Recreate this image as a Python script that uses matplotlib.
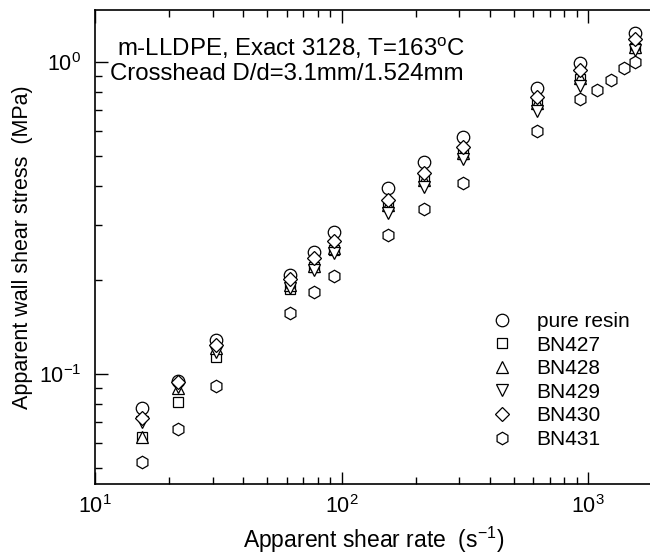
import matplotlib
matplotlib.use('Agg')
from matplotlib import pyplot as plt
from matplotlib.ticker import LogLocator, NullFormatter
import numpy as np

plt.rcParams['font.family'] = ['Liberation Sans', 'DejaVu Sans']
plt.rcParams['mathtext.fontset'] = 'custom'
plt.rcParams['mathtext.rm'] = 'Liberation Sans'
plt.rcParams['mathtext.it'] = 'Liberation Sans:italic'
plt.rcParams['mathtext.bf'] = 'Liberation Sans:bold'
plt.rcParams['axes.unicode_minus'] = False

# apparent shear rate (1/s)
rate = [15.5, 21.7, 31, 62, 77.5, 93, 155, 217, 310, 620, 930, 1550]
rate_431 = [15.5, 21.7, 31, 62, 77.5, 93, 155, 217, 310, 620, 930, 1085, 1240, 1395, 1550]

# apparent wall shear stress (MPa)
pure_resin = [0.078, 0.095, 0.1285, 0.2076, 0.246, 0.285, 0.395, 0.478, 0.575, 0.825, 0.993, 1.239]
bn427 = [0.0628, 0.0813, 0.1134, 0.1874, 0.220, 0.250, 0.345, 0.418, 0.508, 0.735, 0.885, 1.11]
bn428 = [0.0628, 0.090, 0.121, 0.193, 0.222, 0.253, 0.348, 0.419, 0.511, 0.739, 0.889, 1.117]
bn429 = [0.070, 0.091, 0.118, 0.1887, 0.216, 0.244, 0.328, 0.398, 0.489, 0.697, 0.838, 1.093]
bn430 = [0.0723, 0.0943, 0.1239, 0.2016, 0.2354, 0.267, 0.361, 0.441, 0.534, 0.772, 0.943, 1.185]
bn431 = [0.0522, 0.0667, 0.0915, 0.1568, 0.1831, 0.206, 0.279, 0.338, 0.409, 0.601, 0.761,
         0.813, 0.876, 0.957, 1.0]

series = [
    ('pure resin', rate, pure_resin, 'o', 9.0),
    ('BN427', rate, bn427, 's', 7.5),
    ('BN428', rate, bn428, '^', 8.5),
    ('BN429', rate, bn429, 'v', 8.5),
    ('BN430', rate, bn430, 'D', 7.5),
    ('BN431', rate_431, bn431, 'h', 9.0),
]

fig = plt.figure(figsize=(6.5, 5.59), dpi=100)
ax = fig.add_axes([95 / 650, 75 / 559, 557 / 650, 474 / 559])

for name, x, y, m, ms in series:
    ax.plot(x, y, linestyle='none', marker=m, markersize=ms, markerfacecolor='white',
            markeredgecolor='black', markeredgewidth=0.9, label=name)

ax.set_xscale('log')
ax.set_yscale('log')
ax.set_xlim(10, 1818)
ax.set_ylim(0.0444, 1.468)

ax.xaxis.set_minor_locator(LogLocator(base=10, subs=np.arange(2, 10)))
ax.yaxis.set_minor_locator(LogLocator(base=10, subs=np.arange(2, 10)))
ax.xaxis.set_minor_formatter(NullFormatter())
ax.yaxis.set_minor_formatter(NullFormatter())

ax.tick_params(which='both', direction='in', top=True, right=False, width=1, colors='black')
ax.tick_params(which='major', length=9, labelsize=15.5)
ax.tick_params(axis='x', which='major', pad=8)
ax.tick_params(axis='y', which='major', pad=10)
ax.tick_params(which='minor', length=5)
ax.spines['right'].set_visible(False)
for s in ['left', 'bottom', 'top']:
    ax.spines[s].set_linewidth(1.2)

ax.set_xlabel('Apparent shear rate  (s$^{-1}$)', fontsize=16.5, labelpad=5)
ax.set_ylabel('Apparent wall shear stress  (MPa)', fontsize=15.5, labelpad=4)

ax.text(0.04, 0.918, 'm-LLDPE, Exact 3128, T=163$^{\\rm o}$C', fontsize=17.3, va='center',
        ha='left', transform=ax.transAxes)
ax.text(0.027, 0.864, 'Crosshead D/d=3.1mm/1.524mm', fontsize=17.3, va='center', ha='left',
        transform=ax.transAxes)

ax.legend(loc='upper left', bbox_to_anchor=(0.69, 0.385), frameon=False, fontsize=15,
          handletextpad=1.05, labelspacing=0.22, borderpad=0, handlelength=1.2)

fig.savefig('out.png', dpi=100)
